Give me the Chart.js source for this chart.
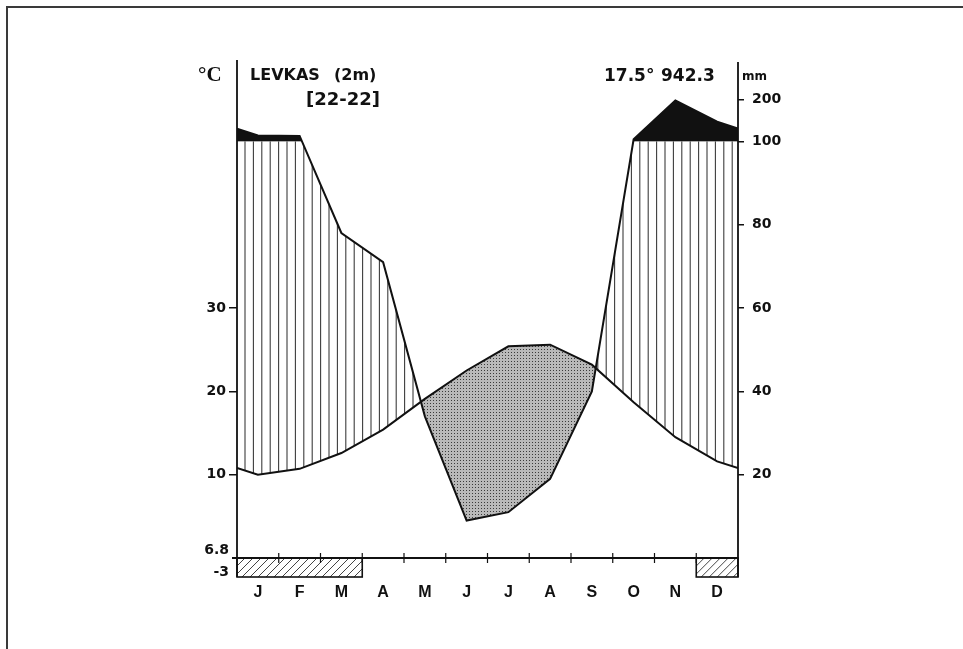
<!DOCTYPE html>
<html>
<head>
<meta charset="utf-8">
<script src="https://cdn.jsdelivr.net/npm/chart.js@4.4.0/dist/chart.umd.min.js"></script>
<style>
  html, body { margin: 0; padding: 0; background: #fff; }
  canvas { display: block; }
</style>
</head>
<body>
<canvas id="chart" width="963" height="649"></canvas>
<script>
// Walter-Lieth climate diagram, Levkas
const months = ['J', 'F', 'M', 'A', 'M', 'J', 'J', 'A', 'S', 'O', 'N', 'D'];
const tempC = [10.0, 10.7, 12.6, 15.4, 19.1, 22.5, 25.4, 25.6, 23.2, 18.7, 14.5, 11.6];
const precipMm = [114, 113, 78, 71, 34, 9, 11, 19, 40, 105, 198, 147];
const frostMonths = [1, 1, 1, 0, 0, 0, 0, 0, 0, 0, 0, 1];
const tempTicks = [10, 20, 30];
const precipTicks = [20, 40, 60, 80, 100, 200];

const station = 'LEVKAS';
const altitude = '(2m)';
const years = '[22-22]';
const meanTemp = '17.5°';
const totalPrecip = '942.3';
const coldMin = '6.8';
const absMin = '-3';

const INK = '#111';
const numFont = { family: '"DejaVu Sans"', size: 14, weight: 'bold' };

// 10 °C = 20 mm, above 100 mm the scale is reduced to 1/10
const toUnits = mm => mm <= 100 ? mm / 2 : 50 + (mm - 100) / 20;

// curves run to the frame edges through the Dec/Jan midpoint
function withEdges(vals) {
  const edge = (vals[0] + vals[vals.length - 1]) / 2;
  return [{ x: 0, y: edge }, ...vals.map((v, i) => ({ x: i + 0.5, y: v })), { x: 12, y: edge }];
}

const tempPoints = withEdges(tempC);
const precipPoints = withEdges(precipMm.map(toUnits));

function stipple() {
  const c = document.createElement('canvas');
  c.width = 3; c.height = 3;
  const g = c.getContext('2d');
  g.fillStyle = '#b9b9b9';
  g.fillRect(0, 0, 3, 3);
  g.fillStyle = '#3a3a3a';
  g.fillRect(1, 1, 1, 1);
  return c;
}

function curvePath(ctx, pts, closeY) {
  ctx.beginPath();
  ctx.moveTo(pts[0].x, closeY);
  pts.forEach(p => ctx.lineTo(p.x, p.y));
  ctx.lineTo(pts[pts.length - 1].x, closeY);
  ctx.closePath();
}

const climatePlugin = {
  id: 'climate',
  beforeDraw(chart) {
    const ctx = chart.ctx;
    ctx.save();
    ctx.fillStyle = '#fff';
    ctx.fillRect(0, 0, chart.width, chart.height);
    ctx.strokeStyle = '#3a3a3a';
    ctx.lineWidth = 2;
    ctx.beginPath();
    ctx.moveTo(7, chart.height);
    ctx.lineTo(7, 7);
    ctx.lineTo(chart.width, 7);
    ctx.stroke();
    ctx.restore();
  },
  beforeDatasetsDraw(chart) {
    const ctx = chart.ctx;
    const a = chart.chartArea;
    const y50 = chart.scales.y.getPixelForValue(50);
    const T = chart.getDatasetMeta(0).data.map(p => ({ x: p.x, y: p.y }));
    const P = chart.getDatasetMeta(1).data.map(p => ({ x: p.x, y: p.y }));

    // humid period: vertical hatching
    ctx.save();
    curvePath(ctx, P, a.bottom); ctx.clip();
    curvePath(ctx, T, a.top); ctx.clip();
    ctx.beginPath(); ctx.rect(a.left, y50, a.right - a.left, a.bottom - y50); ctx.clip();
    ctx.strokeStyle = '#3c3c3c';
    ctx.lineWidth = 1.1;
    ctx.beginPath();
    for (let x = a.left + 8; x < a.right; x += 8.4) {
      ctx.moveTo(x, y50);
      ctx.lineTo(x, a.bottom);
    }
    ctx.stroke();
    ctx.restore();

    // arid period: stippled
    ctx.save();
    curvePath(ctx, T, a.bottom); ctx.clip();
    curvePath(ctx, P, a.top); ctx.clip();
    ctx.fillStyle = ctx.createPattern(stipple(), 'repeat');
    ctx.fillRect(a.left, a.top, a.right - a.left, a.bottom - a.top);
    ctx.restore();

    // above 100 mm: black
    ctx.save();
    curvePath(ctx, P, a.bottom); ctx.clip();
    ctx.fillStyle = INK;
    ctx.fillRect(a.left, a.top - 10, a.right - a.left, y50 - a.top + 10);
    ctx.restore();
  },
  afterDatasetsDraw(chart) {
    const ctx = chart.ctx;
    const a = chart.chartArea;
    const xs = chart.scales.x;
    const boxH = 19;
    ctx.save();
    ctx.strokeStyle = INK;

    // frost months boxes
    let i = 0;
    while (i < 12) {
      if (!frostMonths[i]) { i++; continue; }
      let j = i;
      while (j + 1 < 12 && frostMonths[j + 1]) j++;
      const x0 = xs.getPixelForValue(i), x1 = xs.getPixelForValue(j + 1);
      ctx.save();
      ctx.beginPath(); ctx.rect(x0, a.bottom, x1 - x0, boxH); ctx.clip();
      ctx.lineWidth = 1;
      ctx.strokeStyle = '#444';
      ctx.beginPath();
      for (let k = x0 - boxH; k < x1; k += 8) {
        ctx.moveTo(k, a.bottom + boxH);
        ctx.lineTo(k + boxH, a.bottom);
      }
      ctx.stroke();
      ctx.restore();
      ctx.lineWidth = 1.6;
      ctx.strokeRect(x0, a.bottom, x1 - x0, boxH);
      i = j + 1;
    }

    // axes and base line
    ctx.lineWidth = 1.8;
    ctx.beginPath();
    ctx.moveTo(a.left, a.top + 2); ctx.lineTo(a.left, a.bottom + boxH);
    ctx.moveTo(a.right, a.top + 4); ctx.lineTo(a.right, a.bottom + boxH);
    ctx.moveTo(a.left - 5, a.bottom); ctx.lineTo(a.right, a.bottom);
    ctx.stroke();

    ctx.lineWidth = 1.2;
    ctx.beginPath();
    for (let m = 1; m < 12; m++) {
      const x = xs.getPixelForValue(m);
      ctx.moveTo(x, a.bottom - 5);
      ctx.lineTo(x, a.bottom + 5);
    }
    ctx.stroke();

    // texts
    ctx.fillStyle = INK;
    ctx.textBaseline = 'alphabetic';
    ctx.textAlign = 'left';
    ctx.font = 'bold 21px "Liberation Serif"';
    ctx.fillText('°C', 198, 81);
    ctx.font = 'bold 16px "DejaVu Sans"';
    ctx.fillText(station, 250, 80);
    ctx.fillText(altitude, 334, 80);
    ctx.font = 'bold 18px "DejaVu Sans"';
    ctx.fillText(years, 306, 105);
    ctx.font = 'bold 17px "DejaVu Sans"';
    ctx.fillText(meanTemp, 604, 81);
    ctx.fillText(totalPrecip, 661, 81);
    ctx.font = 'bold 12px "DejaVu Sans"';
    ctx.fillText('mm', 742, 80);
    ctx.textAlign = 'right';
    ctx.font = 'bold 14px "DejaVu Sans"';
    ctx.fillText(coldMin, 229, 554);
    ctx.fillText(absMin, 229, 576);
    ctx.restore();
  }
};

new Chart(document.getElementById('chart'), {
  type: 'line',
  data: {
    datasets: [
      { label: 'Temperature', data: tempPoints, borderColor: INK, borderWidth: 2, pointRadius: 0, tension: 0, fill: false },
      { label: 'Precipitation', data: precipPoints, borderColor: INK, borderWidth: 2, pointRadius: 0, tension: 0, fill: false }
    ]
  },
  options: {
    responsive: false,
    animation: false,
    layout: { padding: { top: 58, left: 0, right: 0, bottom: 0 } },
    plugins: { legend: { display: false }, tooltip: { enabled: false } },
    scales: {
      x: {
        type: 'linear', min: 0, max: 12,
        afterBuildTicks: s => { s.ticks = months.map((m, i) => ({ value: i + 0.5 })); },
        ticks: {
          callback: v => months[Math.floor(v)],
          autoSkip: false, maxRotation: 0, padding: 25, color: INK,
          font: { family: '"Liberation Sans"', size: 16, weight: 'bold' }
        },
        grid: { display: false, drawTicks: false },
        border: { display: false },
        afterFit: s => { s.height = 91; }
      },
      y: {
        position: 'left', min: 0, max: 60,
        afterBuildTicks: s => { s.ticks = tempTicks.map(v => ({ value: v })); },
        ticks: { padding: 3, color: INK, font: numFont },
        grid: { drawOnChartArea: false, tickLength: 8, color: INK, lineWidth: 1.5 },
        border: { display: false },
        afterFit: s => { s.width = 237; }
      },
      y2: {
        position: 'right', min: 0, max: 60,
        afterBuildTicks: s => { s.ticks = precipTicks.map(mm => ({ value: toUnits(mm) })); },
        ticks: {
          padding: 8, color: INK, font: numFont,
          callback: v => precipTicks.find(mm => Math.abs(toUnits(mm) - v) < 1e-6)
        },
        grid: { drawOnChartArea: false, tickLength: 6, color: INK, lineWidth: 1.5 },
        border: { display: false },
        afterFit: s => { s.width = 225; }
      }
    }
  },
  plugins: [climatePlugin]
});
</script>
</body>
</html>
